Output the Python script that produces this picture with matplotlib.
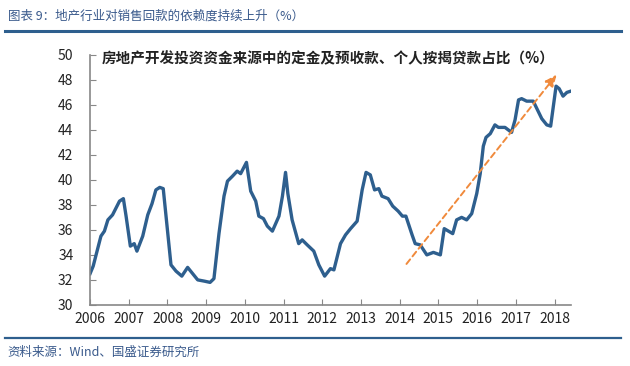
import matplotlib
matplotlib.use("Agg")
import matplotlib.pyplot as plt
from matplotlib.lines import Line2D

plt.rcParams['font.family'] = ['Noto Sans CJK SC', 'DejaVu Sans']

years = [2006.0, 2006.08, 2006.28, 2006.37, 2006.46, 2006.58, 2006.76, 2006.86, 2006.93,
         2007.04, 2007.14, 2007.21, 2007.36, 2007.49, 2007.6, 2007.7, 2007.8, 2007.89,
         2008.09, 2008.22, 2008.37, 2008.52, 2008.65, 2008.78, 2008.95, 2009.1, 2009.2,
         2009.33, 2009.46, 2009.55, 2009.68, 2009.8, 2009.89, 2010.04, 2010.15, 2010.28,
         2010.36, 2010.48, 2010.58, 2010.71, 2010.88, 2010.97, 2011.05, 2011.11, 2011.22,
         2011.39, 2011.48, 2011.61, 2011.78, 2011.91, 2012.06, 2012.21, 2012.3, 2012.47,
         2012.6, 2012.73, 2012.9, 2013.03, 2013.13, 2013.24, 2013.35, 2013.46, 2013.54,
         2013.7, 2013.82, 2013.96, 2014.07, 2014.16, 2014.32, 2014.4, 2014.53, 2014.7,
         2014.87, 2015.05, 2015.15, 2015.26, 2015.37, 2015.47, 2015.6, 2015.73, 2015.86,
         2015.99, 2016.08, 2016.16, 2016.23, 2016.34, 2016.46, 2016.55, 2016.72, 2016.89,
         2016.98, 2017.07, 2017.15, 2017.28, 2017.45, 2017.67, 2017.8, 2017.9, 2018.04,
         2018.12, 2018.22, 2018.32, 2018.42]
share = [32.5, 33.1, 35.5, 35.9, 36.8, 37.2, 38.3, 38.5, 37.1,
         34.7, 34.9, 34.3, 35.5, 37.2, 38.1, 39.2, 39.4, 39.3,
         33.2, 32.7, 32.3, 33.0, 32.5, 32.0, 31.9, 31.8, 32.1,
         35.7, 38.7, 39.9, 40.3, 40.7, 40.5, 41.4, 39.1, 38.3,
         37.1, 36.9, 36.3, 35.9, 37.1, 38.7, 40.6, 38.9, 36.8,
         34.9, 35.2, 34.8, 34.3, 33.2, 32.3, 32.9, 32.8, 34.9,
         35.6, 36.1, 36.7, 39.2, 40.6, 40.4, 39.2, 39.3, 38.7,
         38.5, 37.9, 37.5, 37.1, 37.1, 35.6, 34.9, 34.8, 34.0,
         34.2, 34.0, 36.1, 35.9, 35.7, 36.8, 37.0, 36.8, 37.3,
         38.9, 40.5, 42.7, 43.4, 43.7, 44.4, 44.2, 44.2, 43.8,
         44.8, 46.4, 46.5, 46.3, 46.3, 44.9, 44.4, 44.3, 47.5,
         47.3, 46.7, 47.0, 47.1]

# trend arrow (start and end in data units)
trend_x = [2014.13, 2018.1]
trend_y = [33.1, 48.6]

year_ticks = list(range(2006, 2019))
y_ticks = list(range(30, 51, 2))

fig = plt.figure(figsize=(6.3, 3.66), dpi=100)
ax = fig.add_axes([0.143, 0.167, 0.763, 0.683])

ax.plot(years, share, color='#2E5F8E', lw=2.4, solid_joinstyle='round')
ax.annotate('', xy=(trend_x[1], trend_y[1]), xytext=(trend_x[0], trend_y[0]),
            arrowprops=dict(arrowstyle='-|>,head_length=0.7,head_width=0.3',
                            color='#F08A3C', lw=1.4, linestyle=(0, (3, 2))))

ax.set_xlim(2006, 2018.42)
ax.set_ylim(30, 50)
ax.set_xticks(year_ticks)
ax.set_yticks(y_ticks)
ax.tick_params(direction='in', length=4, color='#888888', labelsize=10,
               labelcolor='#222222', pad=5)
ax.tick_params(axis='y', pad=12)
for s in ['top', 'right']:
    ax.spines[s].set_visible(False)
for s in ['left', 'bottom']:
    ax.spines[s].set_color('#888888')
    ax.spines[s].set_linewidth(1.2)

ax.text(0.024, 0.985, '房地产开发投资资金来源中的定金及预收款、个人按揭贷款占比（%）',
        transform=ax.transAxes, fontsize=10.5, color='#222222', va='center',
        fontweight='semibold')

fig.text(0.012, 0.955, '图表 9：地产行业对销售回款的依赖度持续上升（%）',
         fontsize=9, color='#3A5A8C', style='italic', va='center')
fig.text(0.012, 0.038, '资料来源：Wind、国盛证券研究所',
         fontsize=9, color='#3A5A8C', style='italic', va='center')
fig.add_artist(Line2D([0.008, 0.985], [0.915, 0.915], color='#2E5F8E', lw=2.2))
fig.add_artist(Line2D([0.008, 0.985], [0.077, 0.077], color='#2E5F8E', lw=1.6))

fig.savefig('out.png', dpi=100)
